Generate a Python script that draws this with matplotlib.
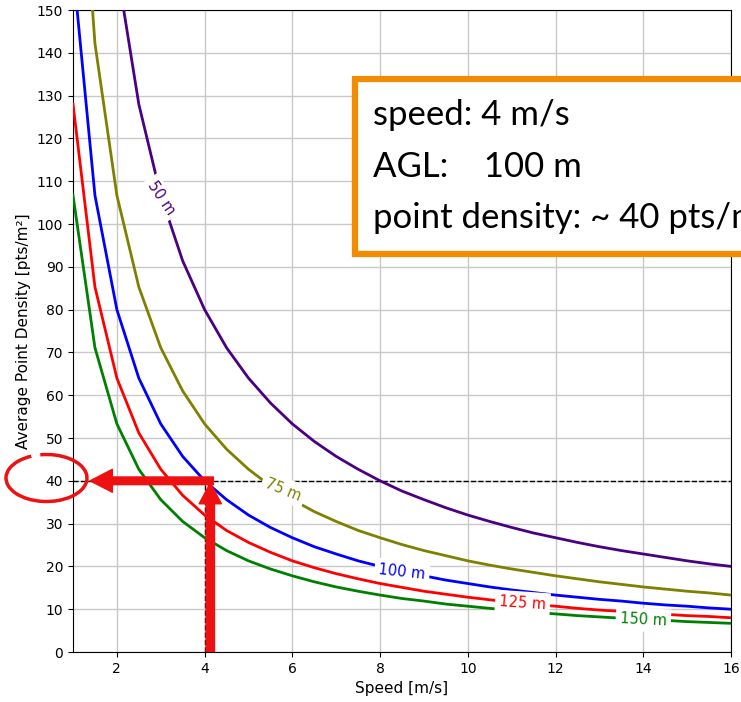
import matplotlib.pyplot as plt
from matplotlib.patches import Rectangle, Arc, FancyArrowPatch

# speeds sampled every 0.5 m/s
speed = [1, 1.5, 2, 2.5, 3, 3.5, 4, 4.5, 5, 5.5, 6, 6.5, 7, 7.5, 8, 8.5,
         9, 9.5, 10, 10.5, 11, 11.5, 12, 12.5, 13, 13.5, 14, 14.5, 15, 15.5, 16]

dens_50 = [320, 213.3, 160, 128, 106.7, 91.4, 80, 71.1, 64, 58.2, 53.3, 49.2, 45.7, 42.7, 40, 37.6,
           35.6, 33.7, 32, 30.5, 29.1, 27.8, 26.7, 25.6, 24.6, 23.7, 22.9, 22.1, 21.3, 20.6, 20]
dens_75 = [213.3, 142.2, 106.7, 85.3, 71.1, 61, 53.3, 47.4, 42.7, 38.8, 35.6, 32.8, 30.5, 28.4, 26.7, 25.1,
           23.7, 22.5, 21.3, 20.3, 19.4, 18.6, 17.8, 17.1, 16.4, 15.8, 15.2, 14.7, 14.2, 13.8, 13.3]
dens_100 = [160, 106.7, 80, 64, 53.3, 45.7, 40, 35.6, 32, 29.1, 26.7, 24.6, 22.9, 21.3, 20, 18.8,
            17.8, 16.8, 16, 15.2, 14.5, 13.9, 13.3, 12.8, 12.3, 11.9, 11.4, 11, 10.7, 10.3, 10]
dens_125 = [128, 85.3, 64, 51.2, 42.7, 36.6, 32, 28.4, 25.6, 23.3, 21.3, 19.7, 18.3, 17.1, 16, 15.1,
            14.2, 13.5, 12.8, 12.2, 11.6, 11.1, 10.7, 10.2, 9.8, 9.5, 9.1, 8.8, 8.5, 8.3, 8]
dens_150 = [106.7, 71.1, 53.3, 42.7, 35.6, 30.5, 26.7, 23.7, 21.3, 19.4, 17.8, 16.4, 15.2, 14.2, 13.3, 12.5,
            11.9, 11.2, 10.7, 10.2, 9.7, 9.3, 8.9, 8.5, 8.2, 7.9, 7.6, 7.4, 7.1, 6.9, 6.7]

curves = [dens_50, dens_75, dens_100, dens_125, dens_150]
names = ['50 m', '75 m', '100 m', '125 m', '150 m']
colors = ['#4b0082', '#808000', '#0000ff', '#ff0000', '#008000']
# where the inline labels sit (speed, density, angle)
label_pos = [(3.0, 106, -56), (5.8, 38, -22), (8.5, 18.7, -6), (11.25, 11.4, -4), (14.0, 7.5, -3)]

sel_speed = 4
sel_dens = 40

fig = plt.figure(figsize=(7.41, 7.02), dpi=100)
ax = fig.add_axes([73/741, 50/702, 658/741, 642/702])

for d, c in zip(curves, colors):
    ax.plot(speed, d, color=c, lw=2, zorder=3)

for (x, y, r), n, c in zip(label_pos, names, colors):
    ax.text(x, y, n, color=c, fontsize=10.5, rotation=r, ha='center', va='center', zorder=4,
            rotation_mode='anchor',
            bbox=dict(facecolor='white', edgecolor='none', pad=3))

ax.axhline(sel_dens, color='black', ls='--', lw=1, zorder=2)
ax.plot([sel_speed, sel_speed], [0, sel_dens], color='black', ls='--', lw=1, zorder=2)

ax.set_xlim(1, 16)
ax.set_ylim(0, 150)
ax.set_xticks(range(2, 17, 2))
ax.set_yticks(range(0, 151, 10))
ax.grid(True, color='#c8c8c8', lw=1)
ax.set_axisbelow(True)
ax.tick_params(labelsize=10)
ax.set_xlabel('Speed [m/s]', fontsize=11)
ax.set_ylabel('Average Point Density [pts/m²]', fontsize=11, labelpad=4)

# red arrows
red = '#ee1111'
up = FancyArrowPatch((4.13, 0), (4.13, 39.5), arrowstyle='simple,head_length=15,head_width=16,tail_width=6',
                     mutation_scale=1, color=red, shrinkA=0, shrinkB=0, zorder=6)
ax.add_patch(up)
left = FancyArrowPatch((4.2, 40), (1.39, 40), arrowstyle='simple,head_length=16,head_width=16.5,tail_width=5.5',
                       mutation_scale=1, color=red, shrinkA=0, shrinkB=0, zorder=6, clip_on=False)
ax.add_patch(left)

# hand drawn circle round the 40 tick
circ = Arc((0.465, 2.24), 0.81, 0.47, theta1=125, theta2=465, color=red, lw=2.5,
           transform=fig.dpi_scale_trans)
fig.add_artist(circ)

# info box
box = Rectangle((355/741, (702-254)/702), 0.6, 175/702, transform=fig.transFigure,
                facecolor='white', edgecolor='#f28c00', lw=4.5, zorder=10)
fig.add_artist(box)
info = ['speed: 4 m/s', 'AGL:    100 m', 'point density: ~ 40 pts/m²']
baselines = [125, 177, 228]
for t, b in zip(info, baselines):
    fig.text(373/741, 1 - b/702, t, fontsize=25, family='Lato', va='baseline', zorder=11)

fig.savefig('out.png', dpi=100)
